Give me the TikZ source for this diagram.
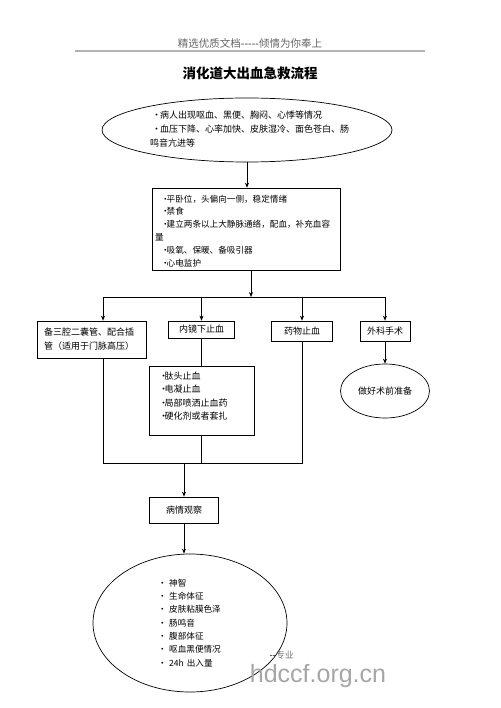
\documentclass[tikz,border=0pt]{standalone}
\usepackage{fontspec}
\setmainfont{Noto Sans CJK SC}
\newfontfamily\wmfont{Liberation Sans}
\usetikzlibrary{shapes.geometric,arrows.meta}
\newcommand{\bul}{\makebox[5.5pt][l]{•}}
\newcommand{\bulw}{\makebox[8pt][l]{•}}
\begin{document}
\begin{tikzpicture}[x=1pt,y=-1pt,
  box/.style={draw,line width=0.7pt,inner sep=0pt,font=\fontsize{9}{13}\selectfont},
  ell/.style={ellipse,draw,line width=0.7pt,inner sep=0pt},
  txt/.style={inner sep=0pt,align=left},
  arr/.style={-{Stealth[length=5pt,width=4pt]},line width=0.7pt},
  ln/.style={line width=0.7pt}]
\useasboundingbox (0,0) rectangle (500,708);
% header
\node[text=black!60,font=\fontsize{10.5}{12}\selectfont] (hdr) at (250,43) {精选优质文档{\color{black!80}{-}{-}{-}{-}{-}}倾情为你奉上};
\coordinate (rl) at (75,51); \coordinate (rr) at (425,51);
\draw[black!30,line width=1.5pt] (rl) -- (rr);
\node[font=\bfseries\fontsize{13.5}{16}\selectfont] (title) at (250,73) {消化道大出血急救流程};
% ellipse 1
\node[ell,minimum width=290,minimum height=64] (e1) at (247,130) {};
\node[txt,anchor=west,text width=205,font=\fontsize{9}{14}\selectfont] (t1) at (150,129)
 {\hspace*{2pt}\bulw 病人出现呕血、黑便、胸闷、心悸等情况\\
  \hspace*{2pt}\bulw 血压下降、心率加快、皮肤湿冷、面色苍白、肠\\
  鸣音亢进等};
% box 2
\node[box,minimum width=188,minimum height=82] (b2) at (246,229) {};
\node[txt,anchor=west,text width=184,font=\fontsize{8.6}{12.9}\selectfont] (t2) at (155,231)
 {\hspace*{6pt}\bul 平卧位，头偏向一侧，稳定情绪\\
  \hspace*{6pt}\bul 禁食\\
  \hspace*{6pt}\bul 建立两条以上大静脉通络，配血，补充血容\\
  量\\
  \hspace*{6pt}\bul 吸氧、保暖、备吸引器\\
  \hspace*{6pt}\bul 心电监护};
% branch boxes
\node[box,minimum width=109,minimum height=37,text width=95,align=left,font=\fontsize{9}{14}\selectfont] (b3a) at (91.5,339.5)
 {备三腔二囊管、配合插\\管（适用于门脉高压）};
\node[box,minimum width=66,minimum height=17] (b3b) at (201.5,329.5) {内镜下止血};
\node[box,minimum width=61,minimum height=20] (b3c) at (302,331) {药物止血};
\node[box,minimum width=50,minimum height=20] (b3d) at (385,331) {外科手术};
\node[ell,minimum width=89,minimum height=54,font=\fontsize{9}{13}\selectfont] (e3) at (385,391) {做好术前准备};
% box 4
\node[box,minimum width=105,minimum height=69] (b4) at (201.5,400.5) {};
\node[txt,anchor=west,text width=95,font=\fontsize{9}{13.3}\selectfont] (t4) at (159,396)
 {\bul 肽头止血\\ \bul 电凝止血\\ \bul 局部喷洒止血药\\ \bul 硬化剂或者套扎};
% observation
\node[box,minimum width=69,minimum height=26] (b5) at (184,510) {病情观察};
\node[ell,minimum width=194,minimum height=138] (e5) at (190,623) {};
\node[txt,anchor=west,text width=120,font=\fontsize{8.6}{13.3}\selectfont] (t5) at (158,623)
 {\makebox[11pt][l]{•}神智\\ \makebox[11pt][l]{•}生命体征\\ \makebox[11pt][l]{•}皮肤粘膜色泽\\
  \makebox[11pt][l]{•}肠鸣音\\ \makebox[11pt][l]{•}腹部体征\\ \makebox[11pt][l]{•}呕血黑便情况\\
  \makebox[11pt][l]{•}24h 出入量};
% connectors
\draw[arr] (e1.south) -- (e1.south |- b2.north);
\coordinate (jT) at (251,297);
\coordinate (jL) at (103,297);
\coordinate (jR) at (385,297);
\draw[arr] (b2.south -| jT) -- (jT);
\draw[ln] (jL) -- (jR);
\draw[arr] (jL) -- (jL |- b3a.north);
\draw[arr] (b3b.north |- jL) -- (b3b.north);
\draw[arr] (b3c.north |- jL) -- (b3c.north);
\draw[arr] (jR) -- (b3d.north);
\draw[arr] (b3d.south) -- (e3.north);
\draw[ln] (b3b.south) -- (b4.north);
\coordinate (bL) at (103,463);
\draw[ln] (jL |- b3a.south) -- (bL) -- (bL -| b3c.south) -- (b3c.south);
\draw[ln] (b4.south) -- (b4.south |- bL);
\draw[arr] (b5.north |- bL) -- (b5.north);
\draw[arr] (b5.south) -- (b5.south |- e5.north);
% watermark
\node[text=black!55,font=\fontsize{9}{10}\selectfont,anchor=west] (wm1) at (266,655) {{\color{black}{-}{-}}专业};
\node[text=black!35,font=\wmfont\fontsize{25}{28}\selectfont] (wm2) at (318,676) {hdccf.org.cn};
\end{tikzpicture}
\end{document}
